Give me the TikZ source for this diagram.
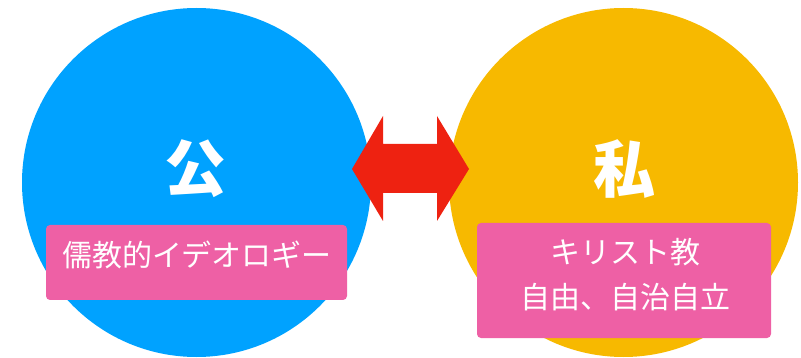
\documentclass[tikz,border=0pt]{standalone}
\usepackage{fontspec}
\newfontfamily\cjk{Noto Sans CJK JP}
\definecolor{cblue}{RGB}{0,162,255}
\definecolor{cyellow}{RGB}{247,185,0}
\definecolor{cred}{RGB}{238,34,17}
\definecolor{cpink}{RGB}{238,96,165}
\tikzset{
  bigcircle/.style={circle,minimum size=349pt,inner sep=0pt,draw=none},
  pinkbox/.style={rectangle,rounded corners=4pt,fill=cpink,draw=none,inner sep=0pt},
  boxtext/.style={text=white,font=\cjk\fontsize{30}{45}\selectfont,align=center,inner sep=0pt},
  bigtext/.style={text=white,font=\cjk\bfseries\fontsize{62}{62}\selectfont,inner sep=0pt}
}
\begin{document}
\begin{tikzpicture}[x=1pt,y=-1pt]
\useasboundingbox (0,0) rectangle (801,358);
\node[bigcircle,fill=cblue] (pub) at (196.5,182.5) {};
\node[bigcircle,fill=cyellow] (priv) at (623.5,182.5) {};
\fill[cred] (352,169) -- (383,116) -- (383,144) -- (437,144) -- (437,116) -- (469,169)
  -- (437,221) -- (437,193) -- (383,193) -- (383,221) -- cycle;
\node[bigtext] (pubt) at (195.5,169) {公};
\node[bigtext] (privt) at (624,169) {私};
\node[pinkbox,minimum width=301pt,minimum height=75pt] (lbox) at (196.5,262.5) {};
\node[boxtext] (ltext) at (197,255) {儒教的イデオロギー};
\node[pinkbox,minimum width=294pt,minimum height=115pt] (rbox) at (624,280.5) {};
\node[boxtext] (rtext) at (625,274.5) {キリスト教\\自由、自治自立};
\end{tikzpicture}
\end{document}
